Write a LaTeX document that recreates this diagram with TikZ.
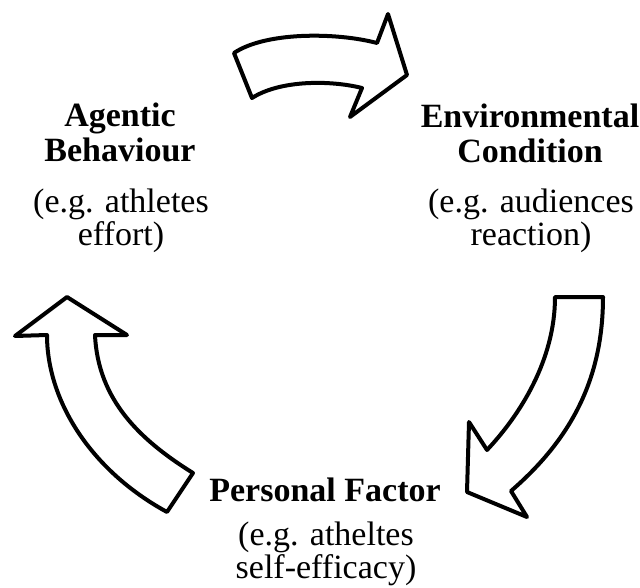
\documentclass[tikz,border=0pt]{standalone}
\usepackage{fontspec}
\setmainfont{Liberation Serif}
\usetikzlibrary{calc}

\begin{document}
\begin{tikzpicture} [x=1pt, y=-1pt,
  blockarrow/.style={draw=black, line width=4pt, line join=round, fill=white},
  factor/.style={font=\bfseries\fontsize{34}{35}\selectfont, align=center, inner sep=0pt},
  example/.style={font=\fontsize{34}{33}\selectfont, align=center, inner sep=0pt}]
\useasboundingbox (0,0) rectangle (640,588);
% the three curved arrows
\draw[blockarrow] (234,53) .. controls (265,32) and (335,32) .. (377,43) -- (388,14) -- (407,75) -- (350,117) -- (362,88) .. controls (330,80) and (280,80) .. (252,98) -- cycle;
\draw[blockarrow] (555,297) -- (603,297) .. controls (603,380) and (570,440) .. (511,491) -- (527,517) -- (467,492) -- (469,422) -- (487,450) .. controls (520,415) and (555,360) .. (555,297) -- cycle;
\draw[blockarrow] (167,512) .. controls (90,470) and (47,400) .. (47,335) -- (15,336) -- (67,297) -- (127,335) -- (95,335) .. controls (98,400) and (140,440) .. (193,473) -- cycle;
% labels (base = last line)
\node[factor, anchor=base] (agentic) at (120,162) {Agentic\\Behaviour};
\node[example, anchor=base] (agenticeg) at (121,246) {(e.g. athletes\\effort)};
\node[factor, anchor=base] (environ) at (530,163) {Environmental\\Condition};
\node[example, anchor=base] (environeg) at (531,246) {(e.g. audiences\\reaction)};
\node[factor, anchor=base] (personal) at (325,501) {Personal Factor};
\node[example, anchor=base] (personaleg) at (326,578) {(e.g. atheltes\\self-efficacy)};
\end{tikzpicture}
\end{document}
